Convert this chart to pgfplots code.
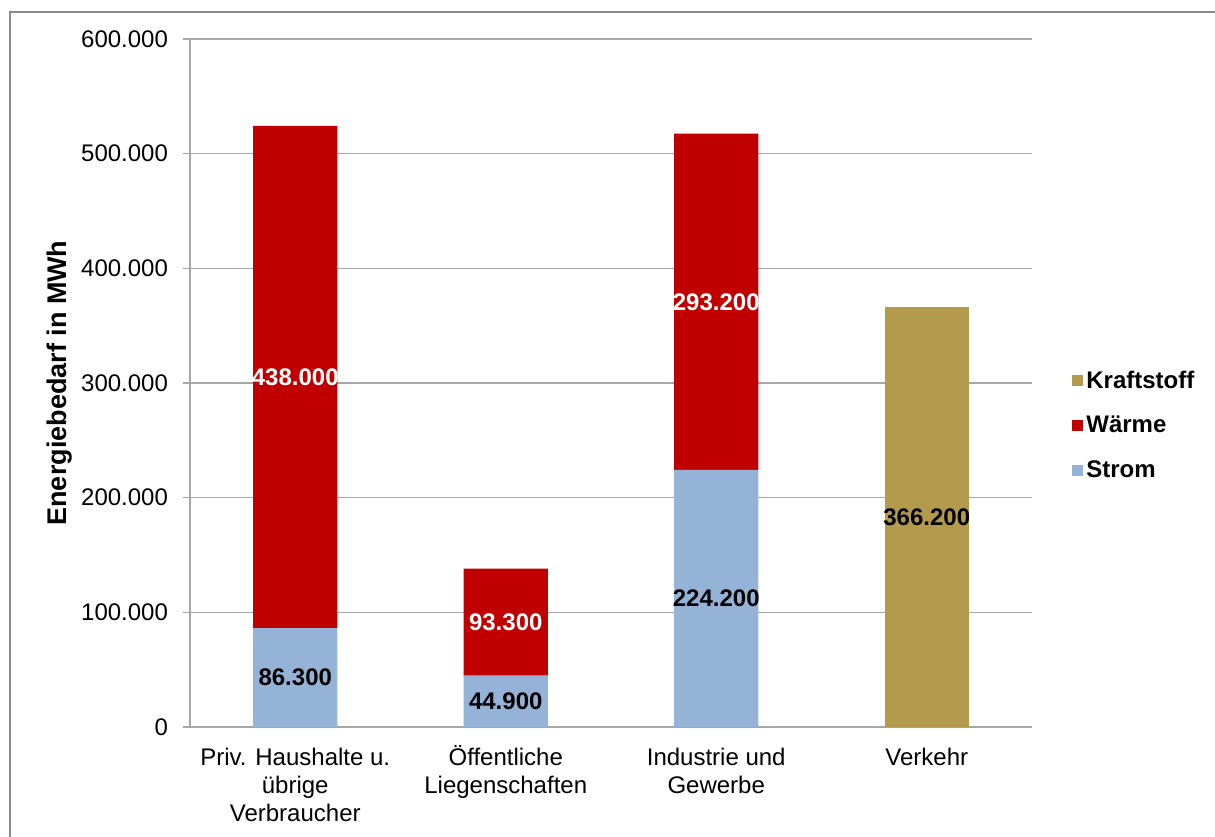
\documentclass[border=0pt]{standalone}
\usepackage{pgfplots}
\pgfplotsset{compat=1.18}
\usepackage{fontspec}
\setmainfont{Liberation Sans}
\definecolor{strom}{HTML}{95B3D7}
\definecolor{waerme}{HTML}{C00000}
\definecolor{kraft}{HTML}{B39A4D}
\definecolor{gridc}{HTML}{A6A6A6}
\definecolor{framec}{HTML}{8C8C8C}
\begin{document}
\begin{tikzpicture}
\useasboundingbox (0,0) rectangle (607.5pt,418pt);
\draw[framec, line width=1pt] (5pt,-20pt) -- (5pt,412pt) -- (640pt,412pt);
\begin{axis}[
  at={(95pt,54.5pt)}, anchor=south west,
  scale only axis, width=421pt, height=344pt,
  ybar stacked, bar width=0.4,
  xmin=-0.5, xmax=3.5, ymin=0, ymax=600000,
  xtick={0,1,2,3},
  xticklabels={{\vphantom{Ö}Priv. Haushalte u.\\übrige\\Verbraucher},{\vphantom{Ö}Öffentliche\\Liegenschaften},{\vphantom{Ö}Industrie und\\Gewerbe},{\vphantom{Ö}Verkehr}},
  xticklabel style={align=center, font=\fontsize{12}{14}\selectfont, yshift=-2pt},
  major x tick style={draw=none},
  extra x ticks={-0.5,0.5,1.5,2.5,3.5},
  extra x tick labels={},
  extra x tick style={grid=none, tick align=outside, major tick length=4pt, tick style={gridc, draw=gridc}},
  ytick={0,100000,...,600000},
  scaled y ticks=false,
  yticklabel style={font=\fontsize{12}{14}\selectfont, xshift=-4pt},
  /pgf/number format/.cd, fixed, precision=0, 1000 sep={.}, assume math mode=true,
  /pgfplots/.cd,
  ymajorgrids, grid style={gridc, line width=0.6pt},
  axis x line*=bottom, axis y line*=left,
  axis line style={gridc, line width=0.6pt},
  y tick style={gridc, line width=0.6pt}, tick align=outside, major tick length=3.5pt,
  ylabel={Energiebedarf in MWh},
  every axis y label/.style={at={(axis description cs:-0.1544,0.5)}, rotate=90, anchor=center,
    font=\bfseries\fontsize{13.5}{16}\selectfont},
  legend style={at={(1.0475,0.438)}, anchor=west, draw=none, fill=none,
    font=\bfseries\fontsize{12}{14}\selectfont, row sep=9.5pt, inner sep=0pt,
    nodes={inner sep=1.5pt}},
  legend cell align=left,
  reverse legend,
  legend image code/.code={\fill[#1] (0pt,-2.75pt) rectangle (5.5pt,2.75pt);},
]
\addplot[fill=strom, draw=none] coordinates {(0,86300) (1,44900) (2,224200) (3,0)};
\addlegendentry{Strom}
\addplot[fill=waerme, draw=none] coordinates {(0,438000) (1,93300) (2,293200) (3,0)};
\addlegendentry{Wärme}
\addplot[fill=kraft, draw=none] coordinates {(0,0) (1,0) (2,0) (3,366200)};
\addlegendentry{Kraftstoff}
\end{axis}
\begin{axis}[
  at={(95pt,54.5pt)}, anchor=south west,
  scale only axis, width=421pt, height=344pt,
  xmin=-0.5, xmax=3.5, ymin=0, ymax=600000,
  hide axis,
]
\addplot[draw=none, mark=none, nodes near coords, point meta=explicit symbolic,
  every node near coord/.style={anchor=center, text=black, font=\bfseries\fontsize{12}{14}\selectfont}]
  table[meta=label] {
x y label
0 43150 86.300
1 22450 44.900
2 112100 224.200
3 183100 366.200
};
\addplot[draw=none, mark=none, nodes near coords, point meta=explicit symbolic,
  every node near coord/.style={anchor=center, text=white, font=\bfseries\fontsize{12}{14}\selectfont}]
  table[meta=label] {
x y label
0 305300 438.000
1 91550 93.300
2 370800 293.200
};
\end{axis}
\end{tikzpicture}
\end{document}
